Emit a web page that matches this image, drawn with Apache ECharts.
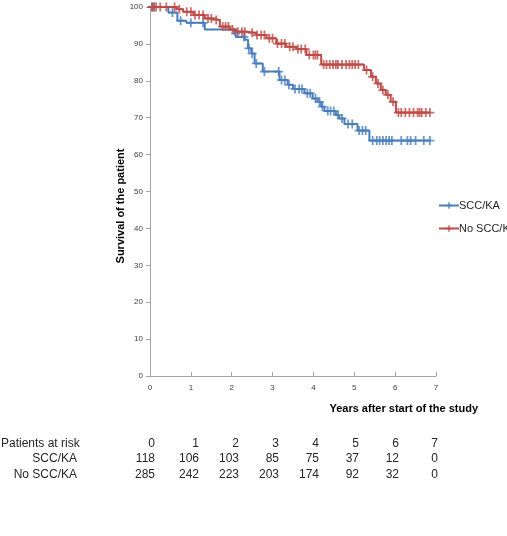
<!DOCTYPE html>
<html>
<head>
<meta charset="utf-8">
<script src="https://cdn.jsdelivr.net/npm/echarts@6/dist/echarts.min.js"></script>
<style>
  html, body { margin: 0; padding: 0; background: #fff; }
  #chart { width: 507px; height: 536px; }
</style>
</head>
<body>
<div id="chart"></div>
<script>
// step points of the Kaplan-Meier curves (years, % survival after the drop)
const sccTimes = [0, 0.45, 0.67, 0.89, 1.34, 2.07, 2.11, 2.32, 2.40, 2.48, 2.56, 2.76, 3.17, 3.37, 3.50, 3.78, 3.98, 4.10, 4.19, 4.27, 4.55, 4.63, 4.76, 5.08, 5.37, 6.87];
const sccSurv = [100, 98.5, 96.3, 95.7, 93.9, 92.8, 91.9, 91.1, 88.8, 87.4, 84.7, 82.5, 80.2, 78.9, 77.8, 76.6, 75.2, 74.3, 73.0, 71.8, 70.7, 69.8, 68.3, 66.5, 63.8, 63.8];
const noSccTimes = [0, 0.65, 0.81, 1.06, 1.34, 1.54, 1.71, 1.95, 2.11, 2.36, 2.60, 2.85, 3.09, 3.33, 3.58, 3.83, 4.19, 5.24, 5.41, 5.53, 5.65, 5.77, 5.89, 6.02, 6.87];
const noSccSurv = [100, 99.4, 98.7, 97.8, 96.9, 96.5, 94.7, 93.9, 93.3, 93.0, 92.4, 91.5, 90.1, 89.2, 88.6, 87.0, 84.4, 82.9, 81.1, 79.3, 77.5, 76.2, 74.3, 71.4, 71.4];

// censored observations (years)
const sccCensor = [0.05, 0.1, 0.55, 0.75, 1.0, 1.3, 2.1, 2.3, 2.42, 2.5, 2.6, 2.8, 3.15, 3.22, 3.3, 3.4, 3.55, 3.65, 3.72, 3.85, 3.92, 4.05, 4.15, 4.22, 4.35, 4.42, 4.5, 4.6, 4.7, 4.85, 4.95, 5.12, 5.2, 5.28, 5.45, 5.55, 5.62, 5.7, 5.78, 5.85, 5.92, 6.15, 6.3, 6.38, 6.5, 6.7, 6.85];
const noSccCensor = [0.05, 0.1, 0.15, 0.25, 0.4, 0.6, 0.72, 0.9, 1.0, 1.1, 1.2, 1.3, 1.42, 1.5, 1.62, 1.78, 1.85, 1.92, 2.02, 2.15, 2.25, 2.32, 2.5, 2.62, 2.72, 2.8, 2.92, 3.0, 3.12, 3.22, 3.3, 3.42, 3.5, 3.62, 3.7, 3.8, 3.9, 4.0, 4.05, 4.1, 4.25, 4.32, 4.4, 4.48, 4.55, 4.6, 4.7, 4.8, 4.88, 4.95, 5.02, 5.1, 5.3, 5.45, 5.58, 5.7, 5.82, 5.95, 6.08, 6.15, 6.25, 6.35, 6.45, 6.55, 6.6, 6.65, 6.75, 6.85];

const xTicks = [0, 1, 2, 3, 4, 5, 6, 7];
const sccAtRisk = [118, 106, 103, 85, 75, 37, 12, 0];
const noSccAtRisk = [285, 242, 223, 203, 174, 92, 32, 0];

const blue = "#4a7ebb";
const red = "#be4b48";
const plus = "path://M4,0h2v4h4v2h-4v4h-2v-4h-4v-2h4z";

function steps(times, surv) {
  return times.map((t, i) => [t, surv[i]]);
}

function censorPoints(censor, times, surv) {
  return censor.map(c => {
    let s = surv[0];
    for (let i = 0; i < times.length; i++) {
      if (times[i] <= c) s = surv[i];
    }
    return [c, s];
  });
}

const chart = echarts.init(document.getElementById("chart"));

const grid = { left: 150, right: 71, top: 7, bottom: 160 };
const colX = [155, 199, 239, 279, 319, 359, 399, 438];
const tableFont = '12px "Liberation Sans", Arial, sans-serif';
const tableColor = "#262626";

const tableText = [];
tableText.push({ type: "text", x: 1, y: 444, style: { text: "Patients at risk", font: tableFont, fill: tableColor, verticalAlign: "middle" } });
tableText.push({ type: "text", x: 77, y: 459, style: { text: "SCC/KA", font: tableFont, fill: tableColor, align: "right", verticalAlign: "middle" } });
tableText.push({ type: "text", x: 77, y: 475, style: { text: "No SCC/KA", font: tableFont, fill: tableColor, align: "right", verticalAlign: "middle" } });
xTicks.forEach((v, i) => {
  tableText.push({ type: "text", x: colX[i], y: 444, style: { text: String(v), font: tableFont, fill: tableColor, align: "right", verticalAlign: "middle" } });
  tableText.push({ type: "text", x: colX[i], y: 459, style: { text: String(sccAtRisk[i]), font: tableFont, fill: tableColor, align: "right", verticalAlign: "middle" } });
  tableText.push({ type: "text", x: colX[i], y: 475, style: { text: String(noSccAtRisk[i]), font: tableFont, fill: tableColor, align: "right", verticalAlign: "middle" } });
});

chart.setOption({
  animation: false,
  grid: grid,
  legend: {
    data: ["SCC/KA", "No SCC/KA"],
    orient: "vertical",
    left: 433,
    top: 195,
    itemWidth: 20,
    itemHeight: 8,
    itemGap: 12,
    textStyle: { fontSize: 11, color: "#262626", fontFamily: '"Liberation Sans", Arial, sans-serif', padding: [0, 0, 0, -5] }
  },
  xAxis: {
    type: "value",
    min: 0,
    max: 7,
    interval: 1,
    axisLine: { lineStyle: { color: "#a6a6a6" } },
    axisTick: { show: true, inside: true, length: 4, lineStyle: { color: "#a6a6a6" } },
    axisLabel: { fontSize: 8, color: "#404040", margin: 8 },
    splitLine: { show: false }
  },
  yAxis: {
    type: "value",
    min: 0,
    max: 100,
    interval: 10,
    axisLine: { show: true, lineStyle: { color: "#a6a6a6" } },
    axisTick: { show: true, length: 4, lineStyle: { color: "#a6a6a6" } },
    axisLabel: { fontSize: 8, color: "#404040", margin: 7 },
    splitLine: { show: false }
  },
  graphic: [
    {
      type: "text",
      x: 121,
      y: 206,
      rotation: Math.PI / 2,
      style: { text: "Survival of the patient", font: 'bold 11px "Liberation Sans", Arial, sans-serif', fill: "#000", align: "center", verticalAlign: "middle" }
    },
    {
      type: "text",
      x: 478,
      y: 409,
      style: { text: "Years after start of the study", font: 'bold 11px "Liberation Sans", Arial, sans-serif', fill: "#000", align: "right", verticalAlign: "middle" }
    }
  ].concat(tableText),
  series: [
    {
      name: "SCC/KA",
      type: "line",
      step: "end",
      data: steps(sccTimes, sccSurv),
      color: blue,
      symbol: plus,
      symbolSize: 7,
      showSymbol: false,
      lineStyle: { width: 2, color: blue }
    },
    {
      name: "No SCC/KA",
      type: "line",
      step: "end",
      data: steps(noSccTimes, noSccSurv),
      color: red,
      symbol: plus,
      symbolSize: 7,
      showSymbol: false,
      lineStyle: { width: 2, color: red }
    },
    {
      name: "SCC/KA censored",
      type: "scatter",
      data: censorPoints(sccCensor, sccTimes, sccSurv),
      symbol: plus,
      symbolSize: 9,
      itemStyle: { color: blue },
      z: 3
    },
    {
      name: "No SCC/KA censored",
      type: "scatter",
      data: censorPoints(noSccCensor, noSccTimes, noSccSurv),
      symbol: plus,
      symbolSize: 9,
      itemStyle: { color: red },
      z: 3
    }
  ]
});
</script>
</body>
</html>
